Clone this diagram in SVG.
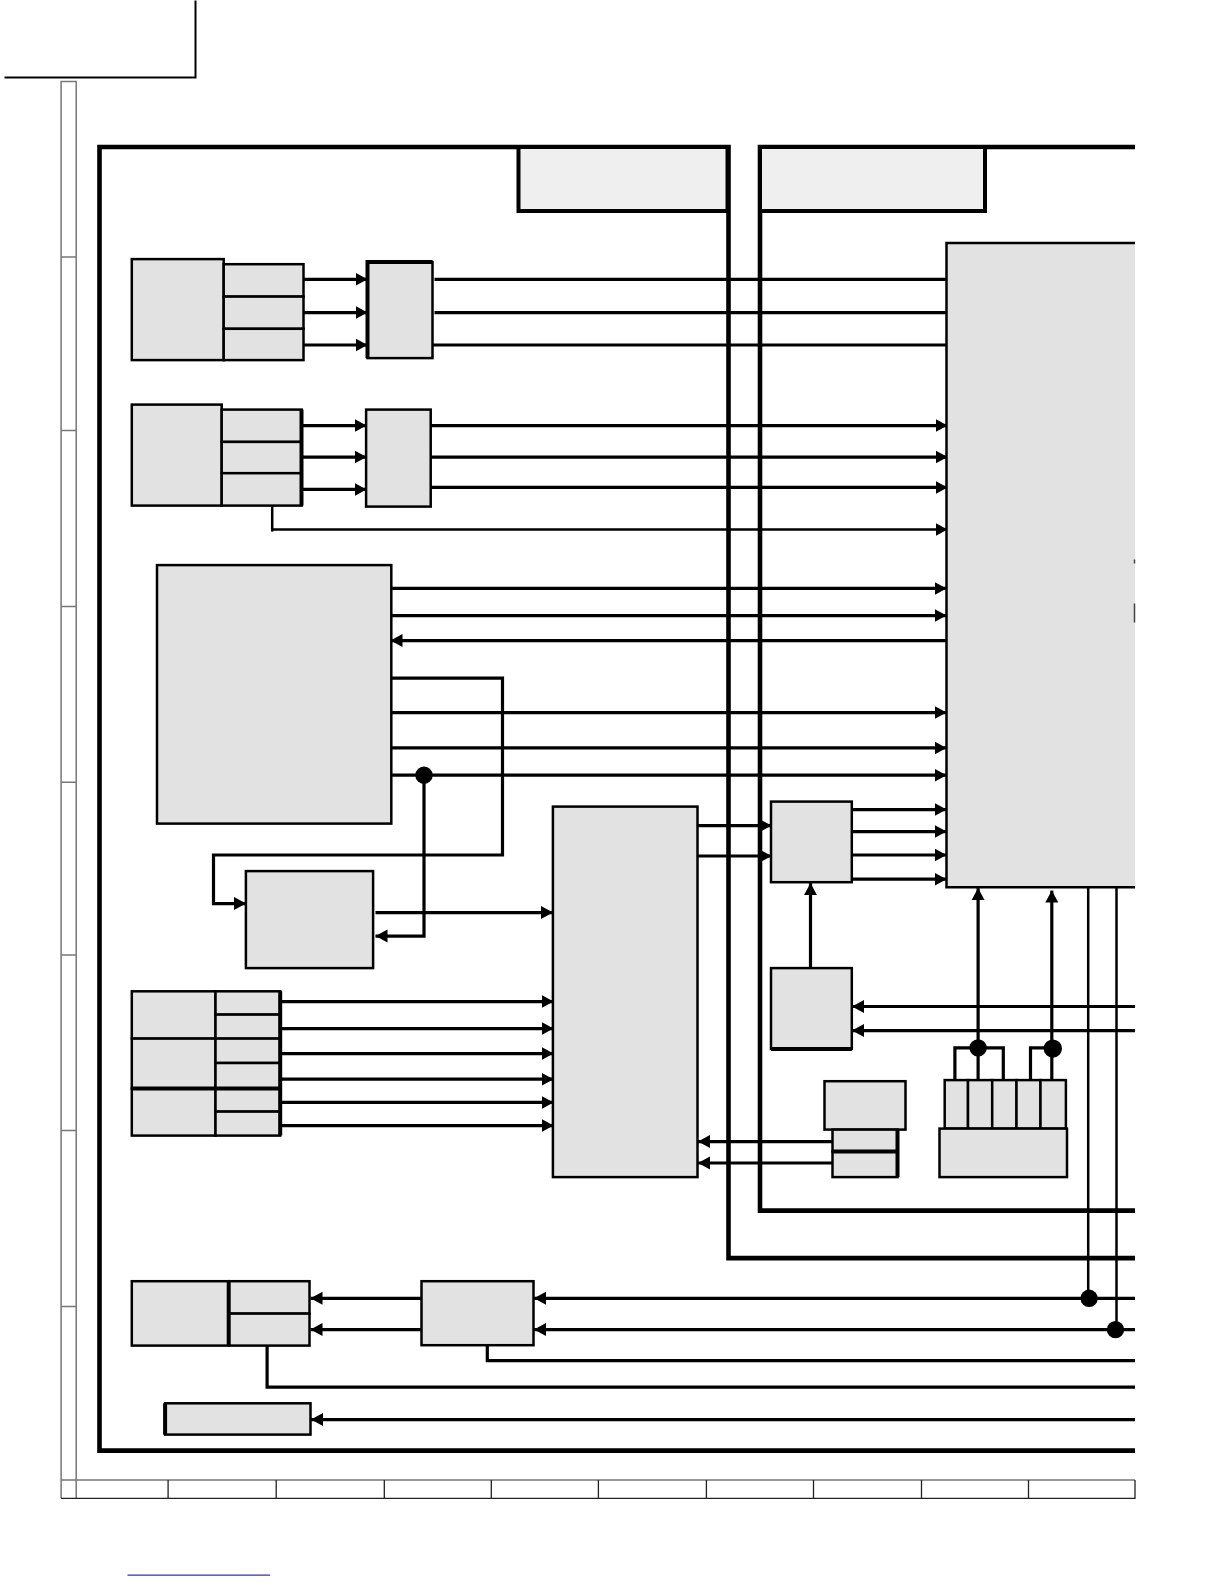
<svg xmlns="http://www.w3.org/2000/svg" width="1224" height="1584" viewBox="0 0 1224 1584">
<style>
.n{fill:#e2e2e2;stroke:#000;stroke-width:2.5}
.t{fill:#efefef;stroke:#000;stroke-width:4}
.c{fill:none;stroke:#000;stroke-width:3.2}
.ct{fill:none;stroke:#000;stroke-width:2.5}
.x{fill:none;stroke:#000;stroke-width:4}
.f{fill:none;stroke:#000;stroke-width:4.6}
.g{fill:none;stroke:#777;stroke-width:1.5}
.a{marker-end:url(#ar)}
.d{fill:#000}
</style>
<defs><marker id="ar" markerUnits="userSpaceOnUse" markerWidth="13" markerHeight="14" refX="12" refY="7" orient="auto"><path d="M0 0.5L12 7L0 13.5z" fill="#000"/></marker></defs>
<rect width="1224" height="1584" fill="#fff"/>
<g transform="translate(0.5 0.6)">
<g id="page-marks">
<path d="M4 76.8H195V0" fill="none" stroke="#000" stroke-width="2"/>
<path class="g" d="M60.6 1497.7V80.8H75.7V1497.7M60.6 256.5H75.7M60.6 430H75.7M60.6 606H75.7M60.6 781.7H75.7M60.6 954.4H75.7M60.6 1130H75.7M60.6 1305.8H75.7M60.6 1479.5H1134.5"/>
<path fill="none" stroke="#222" stroke-width="1.3" d="M60.6 1497.7H1134.5V1479.5M167.6 1479.5V1497.7M275.7 1479.5V1497.7M383.8 1479.5V1497.7M490.8 1479.5V1497.7M597.9 1479.5V1497.7M705.9 1479.5V1497.7M813 1479.5V1497.7M921 1479.5V1497.7M1028 1479.5V1497.7"/>
<path d="M127 1574.5H269.6" stroke="#00008b" stroke-width="1" fill="none"/>
</g>
<g id="frames">
<path class="f" d="M1134.5 1450H99V146.4H728V1257.5H1134.5"/>
<path class="f" d="M1134.5 146.4H759.5V1210H1134.5"/>
</g>
<g id="connectors">
<path class="c a" d="M303 278.7H367"/><path class="c a" d="M303 312H367"/><path class="c a" d="M303 344.4H367"/>
<path class="c" d="M434 278.7H946"/><path class="c" d="M434 312H946"/><path class="c" d="M432 344.4H946"/>
<path class="c a" d="M301 425H366"/><path class="c a" d="M301 456.5H366"/><path class="c a" d="M301 488.8H366"/>
<path class="c a" d="M430 425H947"/><path class="c a" d="M430 456.5H947"/><path class="c a" d="M430 486.8H947"/>
<path class="ct" d="M271.7 505V531"/><path class="ct a" d="M272 529H947"/>
<path class="c a" d="M390 587.8H946"/><path class="c a" d="M390 615H946"/><path class="c a" d="M946 640H390"/>
<path class="c a" d="M390 677.6H502V854.4H213V903H245.5"/>
<path class="c a" d="M390 712H946"/><path class="c a" d="M390 747.3H946"/><path class="c a" d="M390 774.6H946"/>
<path class="c a" d="M423.5 774.6V935.5H375"/>
<path class="c a" d="M375 912H552.5"/>
<path class="c a" d="M697 825H771"/><path class="c a" d="M697 855.4H771"/>
<path class="c a" d="M851 809H946"/><path class="c a" d="M851 831H946"/><path class="c a" d="M851 854.4H946"/><path class="c a" d="M851 878.6H946"/>
<path class="c a" d="M810 967.5V882.5"/>
<path class="c a" d="M1134.5 1005.9H851.5"/><path class="c a" d="M1134.5 1030H851.5"/>
<path class="c a" d="M977.6 1079.5V887.5"/><path class="c a" d="M1051.3 1079.5V890"/>
<path class="c" d="M954.4 1079.5V1047.3H1002.8V1079.5"/><path class="c" d="M1030 1079.5V1047.3H1052"/>
<path class="c a" d="M279.7 1001H553"/><path class="c a" d="M279.7 1028H553"/><path class="c a" d="M279.7 1053H553"/><path class="c a" d="M279.7 1078.6H553"/><path class="c a" d="M279.7 1101.8H553"/><path class="c a" d="M279.7 1125H553"/>
<path class="c a" d="M832 1141H697.5"/><path class="c a" d="M832 1162.4H697.5"/>
<path class="ct" d="M1087.7 886V1297.7"/><path class="ct" d="M1116 886V1329"/>
<path class="c a" d="M1134.5 1297.7H533.5"/><path class="c a" d="M1134.5 1329H533.5"/>
<path class="c a" d="M423 1297.7H310"/><path class="c a" d="M423 1329H310"/>
<path class="c" d="M486.8 1345V1360H1134.5"/>
<path class="c" d="M266.6 1345V1386.6H1134.5"/>
<path class="c a" d="M1134.5 1419H310.5"/>
<circle class="d" cx="423.5" cy="774.6" r="8.7"/>
<circle class="d" cx="977.6" cy="1047.3" r="8.7"/>
<circle class="d" cx="1052.3" cy="1048" r="9.2"/>
<circle class="d" cx="1088.6" cy="1297.7" r="8.7"/>
<circle class="d" cx="1115" cy="1329" r="8.7"/>
</g>
<g id="title-left"><rect class="t" x="518" y="146.4" width="209" height="64"/></g>
<g id="title-right"><rect class="t" x="759.5" y="146.4" width="225" height="64"/></g>
<g id="main-ic"><path d="M1134.5 242.4H946V886.7H1134.5z" fill="#e2e2e2"/><path d="M1134.5 242.4H946V886.7H1134.5" fill="none" stroke="#000" stroke-width="2.5"/><path d="M1134 559V563M1134 603V622" stroke="#444" stroke-width="1.5" fill="none"/></g>
<g id="in1-a"><rect class="n" x="131.3" y="258.5" width="91.9" height="101"/></g>
<g id="in1-b"><rect class="n" x="223.2" y="263.6" width="79.8" height="32.4"/><rect class="n" x="223.2" y="296" width="79.8" height="32.2"/><rect class="n" x="223.2" y="328.2" width="79.8" height="31.3"/></g>
<g id="sw1"><rect class="n" x="367" y="261.5" width="65" height="96"/><path class="x" d="M367 357.5V261.5H432"/></g>
<g id="in2-a"><rect class="n" x="131.3" y="404" width="89.9" height="101"/></g>
<g id="in2-b"><rect class="n" x="221.2" y="409" width="80" height="32.3"/><rect class="n" x="221.2" y="441.3" width="80" height="31.3"/><rect class="n" x="221.2" y="472.6" width="80" height="32.4"/><path class="x" d="M301 409V505"/></g>
<g id="sw2"><rect class="n" x="365.6" y="409" width="64.6" height="97"/></g>
<g id="big-left"><rect class="n" x="156.5" y="564.5" width="234.3" height="258.5"/></g>
<g id="small-mid"><rect class="n" x="245.4" y="870.5" width="127.2" height="97"/></g>
<g id="tall"><rect class="n" x="552.4" y="806" width="144.6" height="370.5"/></g>
<g id="rgt-a"><rect class="n" x="770.5" y="801" width="80.8" height="80.6"/></g>
<g id="rgt-b"><rect class="n" x="770.5" y="967.5" width="80.8" height="80.8"/><path class="x" d="M770.5 1048.3H851.3"/></g>
<g id="in3-a"><rect class="n" x="131.3" y="990.7" width="83.7" height="47.3"/><rect class="n" x="131.3" y="1038" width="83.7" height="49.8"/><rect class="n" x="131.3" y="1087.8" width="83.7" height="47.2"/><path class="x" d="M131.3 1087.8H215"/></g>
<g id="in3-b"><rect class="n" x="215" y="990.7" width="64.7" height="23.3"/><rect class="n" x="215" y="1014" width="64.7" height="24"/><rect class="n" x="215" y="1038" width="64.7" height="24.4"/><rect class="n" x="215" y="1062.4" width="64.7" height="25.4"/><rect class="n" x="215" y="1087.8" width="64.7" height="23.2"/><rect class="n" x="215" y="1111" width="64.7" height="24"/><path class="x" d="M279.7 990.7V1135M215 1087.8H279.7"/></g>
<g id="ctl-a"><rect class="n" x="824" y="1080.6" width="81" height="48.4"/></g>
<g id="ctl-b"><rect class="n" x="832" y="1129" width="65" height="22"/><rect class="n" x="832" y="1151" width="65" height="25.5"/><path class="x" d="M832 1151H897M897 1129V1176.5"/></g>
<g id="cells"><rect class="n" x="944.2" y="1079.5" width="23.3" height="48.5"/><rect class="n" x="967.5" y="1079.5" width="24.2" height="48.5"/><rect class="n" x="991.7" y="1079.5" width="24.3" height="48.5"/><rect class="n" x="1016" y="1079.5" width="24" height="48.5"/><rect class="n" x="1040" y="1079.5" width="25.4" height="48.5"/></g>
<g id="cells-base"><rect class="n" x="939" y="1128" width="127.5" height="48.5"/></g>
<g id="out-a"><rect class="n" x="131.3" y="1280.6" width="96.9" height="64.4"/></g>
<g id="out-b"><rect class="n" x="228.2" y="1280.6" width="80.8" height="32.4"/><rect class="n" x="228.2" y="1313" width="80.8" height="32"/><path class="x" d="M228.2 1280.6V1345"/></g>
<g id="out-mid"><rect class="n" x="421" y="1280.6" width="112" height="64"/></g>
<g id="out-bottom"><rect class="n" x="164.6" y="1402.7" width="145.4" height="31.3"/><path class="x" d="M164.6 1402.7V1434"/></g>
</g>
</svg>
